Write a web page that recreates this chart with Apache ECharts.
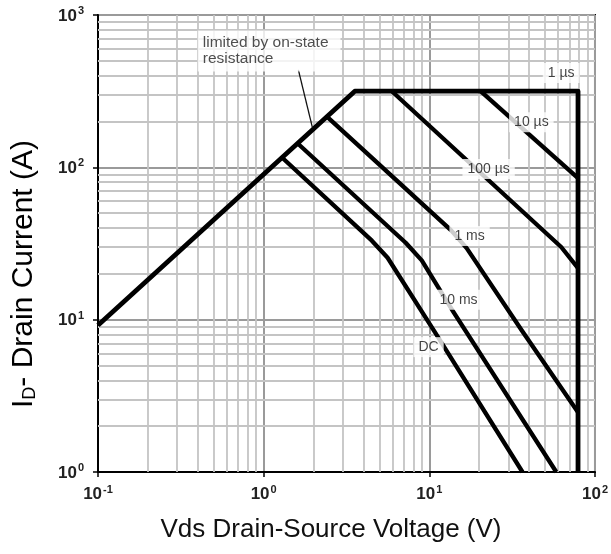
<!DOCTYPE html>
<html>
<head>
<meta charset="utf-8">
<script src="https://cdn.jsdelivr.net/npm/echarts@6/dist/echarts.min.js"></script>
<style>
html, body { margin: 0; padding: 0; background: #fff; }
#chart { width: 611px; height: 554px; }
</style>
</head>
<body>
<div id="chart"></div>
<script>
// SOA 曲线数据 (Vds 单位 V, Id 单位 A)
var envelopeV = [0.1, 3.55, 79, 79];
var envelopeI = [9.2, 316, 316, 1];

var us10V = [20.4, 79];
var us10I = [316, 85];

var us100V = [5.94, 62.5, 79];
var us100I = [316, 30, 21.8];

var ms1V = [2.4, 13.5, 16.8, 36, 79];
var ms1I = [216, 38.7, 29.5, 8.55, 2.47];

var ms10V = [1.6, 7.2, 9, 11.4, 14, 58.4];
var ms10I = [144, 32, 24.5, 16.1, 11.2, 1];

var dcV = [1.29, 4.5, 5.6, 10.9, 36.5];
var dcI = [116, 33, 25.5, 8.17, 1];

// 曲线标注
var labelText = ['1 µs', '10 µs', '100 µs', '1 ms', '10 ms', 'DC'];
var labelV = [62.5, 41.3, 22.8, 17.5, 15.0, 9.9];
var labelI = [416, 198, 97.5, 35.4, 13.5, 6.6];

// 导通电阻限制说明
var noteText = 'limited by on-state\nresistance';
var noteV = [0.4];
var noteI = [580];
var leaderV = [1.62, 1.97];
var leaderI = [436, 182];

var font = '"Liberation Sans", Arial, sans-serif';

function pairs(xs, ys) {
    var out = [];
    for (var i = 0; i < xs.length; i++) {
        out.push([xs[i], ys[i]]);
    }
    return out;
}

// 次网格线 2..9
var xMinor = [];
var yMinor = [];
[0.1, 1, 10].forEach(function (d) {
    for (var k = 2; k <= 9; k++) xMinor.push(+(k * d).toFixed(3));
});
[1, 10, 100].forEach(function (d) {
    for (var k = 2; k <= 9; k++) yMinor.push(k * d);
});

function expLabel(v) {
    var e = Math.round(Math.log(v) / Math.LN10);
    return '{b|10}{s|' + e + '}';
}

var tickRich = {
    b: { fontSize: 17, fontWeight: 'bold', color: '#222', fontFamily: font, lineHeight: 19, verticalAlign: 'bottom' },
    s: { fontSize: 11, fontWeight: 'bold', color: '#222', fontFamily: font, lineHeight: 11, verticalAlign: 'bottom', padding: [0, 0, 8, 1] }
};

function curve(xs, ys, width) {
    return {
        type: 'line',
        data: pairs(xs, ys),
        showSymbol: false,
        silent: true,
        z: 3,
        lineStyle: { color: '#000', width: width, join: 'round' }
    };
}

var chart = echarts.init(document.getElementById('chart'));

var option = {
    animation: false,
    backgroundColor: '#fff',
    grid: {
        left: 98, right: 14, top: 15, bottom: 82,
        show: true, borderColor: '#000', borderWidth: 2, backgroundColor: 'transparent'
    },
    xAxis: {
        type: 'log',
        logBase: 10,
        min: 0.1,
        max: 100,
        axisLine: { lineStyle: { color: '#000', width: 2 } },
        axisTick: { show: true, length: 5, lineStyle: { color: '#000', width: 1.5 } },
        axisLabel: { formatter: expLabel, rich: tickRich, margin: 12, fontSize: 17, fontWeight: 'bold' },
        splitLine: { show: true, lineStyle: { color: '#9a9a9a', width: 2 } }
    },
    yAxis: {
        type: 'log',
        logBase: 10,
        min: 1,
        max: 1000,
        axisLine: { lineStyle: { color: '#000', width: 2 } },
        axisTick: { show: true, length: 5, lineStyle: { color: '#000', width: 1.5 } },
        axisLabel: { formatter: expLabel, rich: tickRich, margin: 14, fontSize: 17, fontWeight: 'bold' },
        splitLine: { show: true, lineStyle: { color: '#9a9a9a', width: 2 } }
    },
    graphic: [
        {
            type: 'text',
            x: 331, y: 530,
            style: {
                text: 'Vds Drain-Source Voltage (V)',
                font: '26px ' + font,
                fill: '#111',
                align: 'center',
                verticalAlign: 'middle'
            }
        },
        {
            type: 'text',
            x: 22, y: 274,
            rotation: Math.PI / 2,
            style: {
                text: '{a|I}{sub|D}{a|- Drain Current (A)}',
                align: 'center',
                verticalAlign: 'middle',
                rich: {
                    a: { fontSize: 30, fontFamily: font, color: '#111', lineHeight: 34, verticalAlign: 'bottom' },
                    sub: { fontSize: 18, fontFamily: font, color: '#111', lineHeight: 20, verticalAlign: 'bottom' }
                }
            }
        }
    ],
    series: [
        {
            // 次网格
            type: 'line',
            data: [[1, 10]],
            showSymbol: false,
            silent: true,
            z: 1,
            lineStyle: { opacity: 0 },
            markLine: {
                z: 1,
                silent: true,
                animation: false,
                symbol: ['none', 'none'],
                label: { show: false },
                lineStyle: { color: '#c4c4c4', width: 1.8, type: 'solid' },
                data: xMinor.map(function (v) { return { xAxis: v }; })
                    .concat(yMinor.map(function (v) { return { yAxis: v }; }))
            }
        },
        curve(envelopeV, envelopeI, 4.8),
        curve(us10V, us10I, 4.3),
        curve(us100V, us100I, 4.3),
        curve(ms1V, ms1I, 4.3),
        curve(ms10V, ms10I, 4.3),
        curve(dcV, dcI, 4.3),
        {
            type: 'line',
            data: pairs(leaderV, leaderI),
            showSymbol: false,
            silent: true,
            z: 3,
            lineStyle: { color: '#111', width: 1.3 }
        },
        {
            type: 'scatter',
            symbolSize: 0,
            silent: true,
            z: 6,
            data: labelV.map(function (v, i) {
                return { value: [v, labelI[i]], name: labelText[i] };
            }),
            label: {
                show: true,
                formatter: '{b}',
                position: 'inside',
                fontSize: 14,
                fontFamily: font,
                color: '#111',
                backgroundColor: '#fff',
                padding: [3, 5]
            }
        },
        {
            type: 'scatter',
            symbolSize: 0,
            silent: true,
            z: 6,
            data: noteV.map(function (v, i) {
                return { value: [v, noteI[i]], name: noteText };
            }),
            label: {
                show: true,
                formatter: '{b}',
                position: 'right',
                distance: 0,
                align: 'left',
                fontSize: 15.5,
                fontFamily: font,
                color: '#222',
                lineHeight: 16,
                backgroundColor: '#fff',
                padding: [2, 12, 7, 5]
            }
        }
    ]
};

chart.setOption(option);
</script>
</body>
</html>
